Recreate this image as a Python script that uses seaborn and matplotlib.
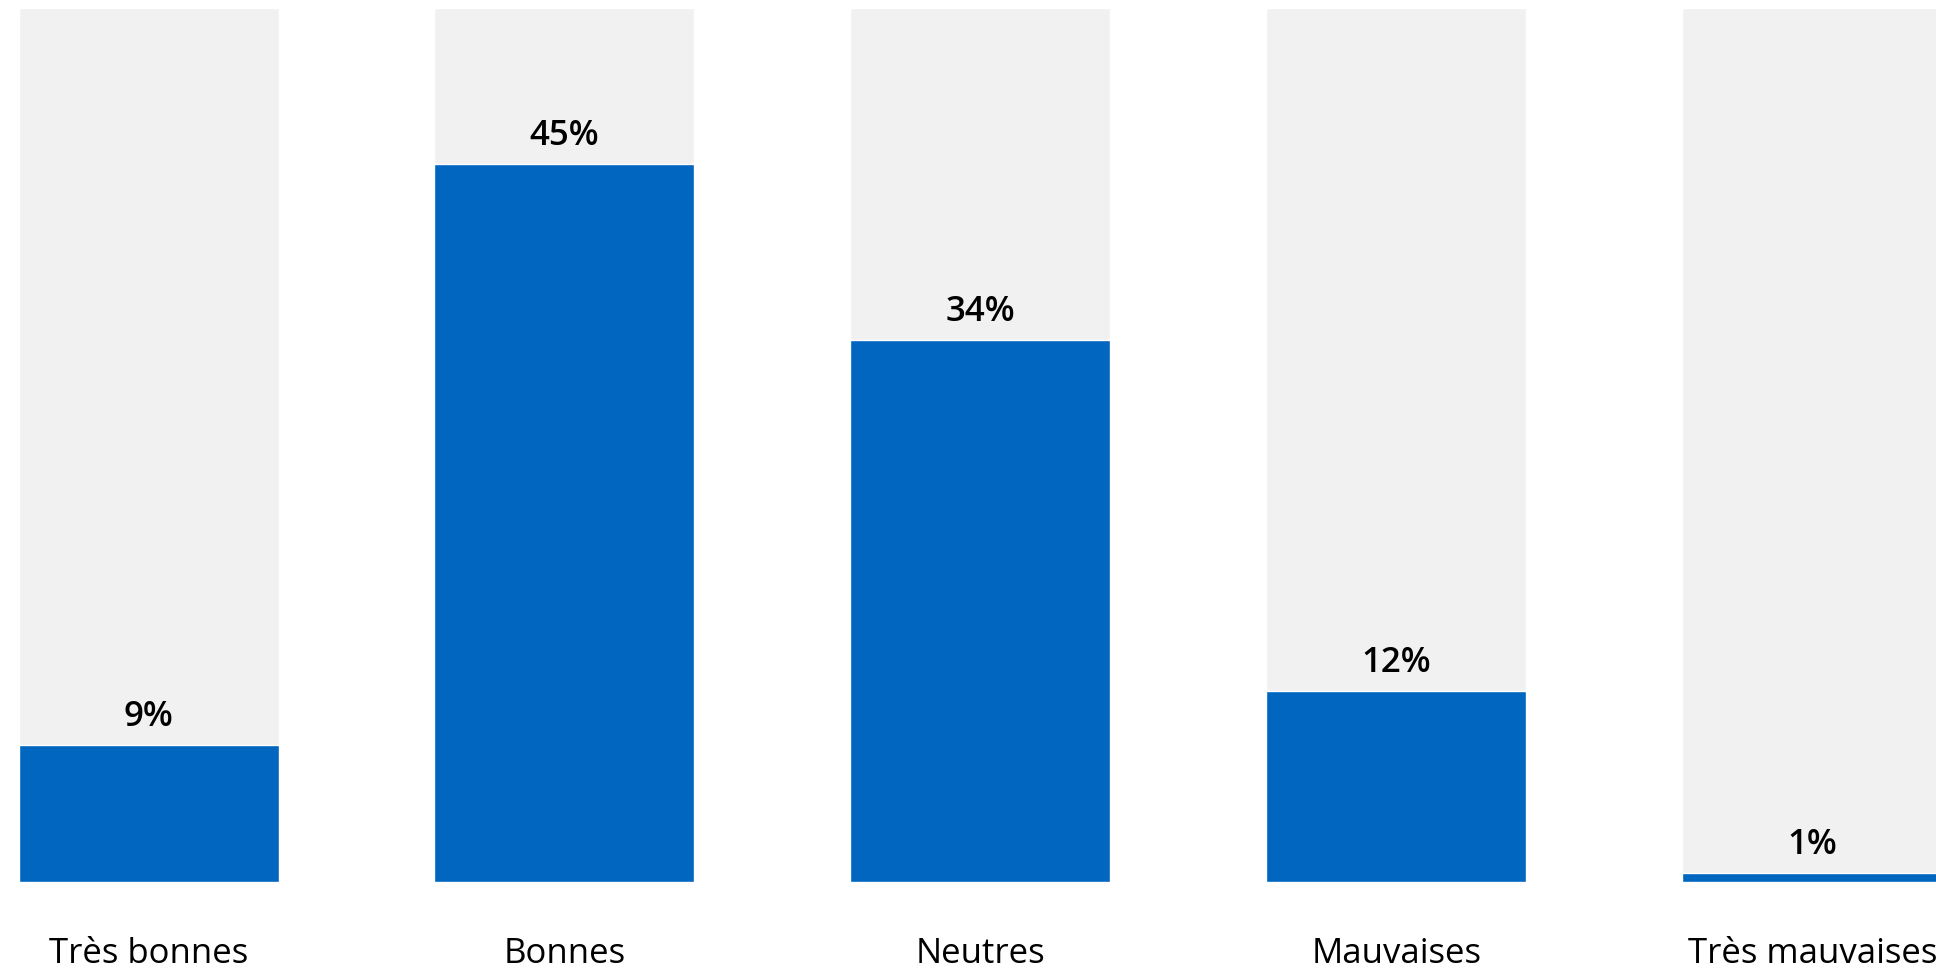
import matplotlib
matplotlib.use("Agg")
import matplotlib.pyplot as plt
import seaborn as sns

# Data
categories = ["Très bonnes", "Bonnes", "Neutres", "Mauvaises", "Très mauvaises"]
values = [8.6, 45, 34, 12, 0.55]
scale_max = 54.8  # grey background column height

BLUE = "#0066C0"
GREY = "#F1F1F1"

sns.set_theme(style="white")
plt.rcParams["font.family"] = ["Open Sans", "DejaVu Sans"]

fig = plt.figure(figsize=(19.36, 9.78), dpi=100)
ax = fig.add_axes([0, 95 / 978, 1, 874 / 978])

sns.barplot(x=categories, y=[scale_max] * len(categories), color=GREY,
            saturation=1, width=0.625, ax=ax)
sns.barplot(x=categories, y=values, color=BLUE,
            saturation=1, width=0.625, ax=ax)

for i, v in enumerate(values):
    ax.text(i, v + 1.25, f"{v:.0f}%", ha="center", va="baseline",
            fontsize=25, fontweight="semibold", color="black")

ax.set_xlim(-0.357, 4.297)
ax.set_ylim(0, scale_max)
ax.set_yticks([])
ax.set_xlabel("")
ax.set_ylabel("")
ax.tick_params(axis="x", length=0, pad=39, labelsize=25, labelcolor="black")
sns.despine(ax=ax, left=True, bottom=True)

fig.savefig("out.png", dpi=100)
